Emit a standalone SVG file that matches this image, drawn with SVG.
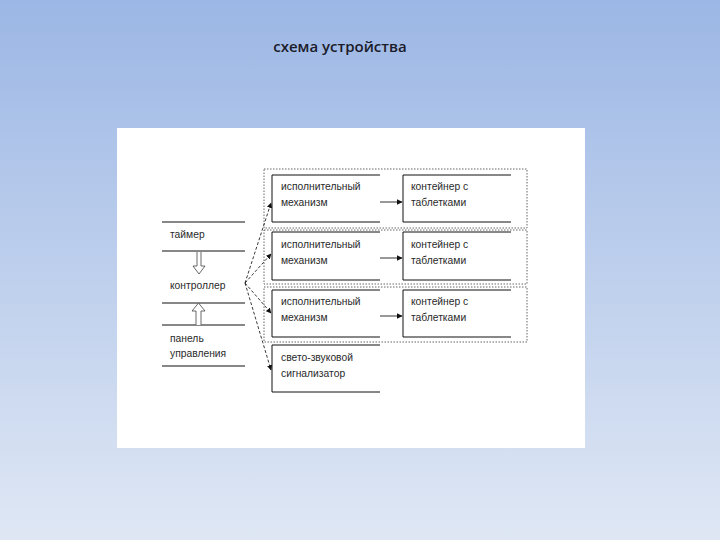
<svg xmlns="http://www.w3.org/2000/svg" width="720" height="540" viewBox="0 0 720 540">
<defs>
<linearGradient id="bg" x1="0" y1="0" x2="0" y2="1">
<stop offset="0" stop-color="#9cb7e5"/>
<stop offset="1" stop-color="#dfe7f4"/>
</linearGradient>
<marker id="ah" viewBox="0 0 10 10" refX="9" refY="5" markerWidth="6" markerHeight="6" orient="auto">
<path d="M0,0 L10,5 L0,10 z" fill="#111"/>
</marker>
<style>
.t{font-family:"Liberation Sans",Arial,sans-serif;font-size:10.3px;fill:#2a2a2a}
.ln{stroke:#111;stroke-width:1;fill:none}
.grp{stroke:#666;stroke-width:1;stroke-dasharray:1.5,1.5;fill:none}
.dash{stroke:#222;stroke-width:0.9;stroke-dasharray:3,2;fill:none}
.h{stroke:#333;stroke-width:1;fill:none}
</style>
</defs>
<rect width="720" height="540" fill="url(#bg)"/>
<text x="340" y="52" text-anchor="middle" font-family="'Open Sans','Liberation Sans',sans-serif" font-size="15" font-weight="600" fill="#1b1b2a">схема устройства</text>
<rect x="117" y="128" width="468" height="320" fill="#fff"/>

<g id="groups">
<rect class="grp" x="264" y="169" width="263" height="59"/>
<rect class="grp" x="264" y="230" width="263" height="54"/>
<rect class="grp" x="264" y="287" width="263" height="55"/>
</g>

<g id="timer">
<line class="ln" x1="162" y1="222" x2="245" y2="222"/>
<line class="ln" x1="162" y1="251" x2="245" y2="251"/>
<text class="t" x="170" y="238">таймер</text>
</g>
<g id="controller">
<text class="t" x="170" y="289">контроллер</text>
</g>
<g id="panel">
<line class="ln" x1="162" y1="303" x2="245" y2="303"/>
<line class="ln" x1="162" y1="325" x2="245" y2="325"/>
<line class="ln" x1="162" y1="366" x2="245" y2="366"/>
<text class="t" x="170" y="342">панель</text>
<text class="t" x="170" y="357">управления</text>
</g>

<g id="act1">
<path class="ln" d="M380,175 H272 V222 H380"/>
<text class="t" x="281" y="190">исполнительный</text>
<text class="t" x="281" y="206">механизм</text>
</g>
<g id="act2">
<path class="ln" d="M380,232 H272 V280 H380"/>
<text class="t" x="281" y="248">исполнительный</text>
<text class="t" x="281" y="264">механизм</text>
</g>
<g id="act3">
<path class="ln" d="M380,290 H272 V337 H380"/>
<text class="t" x="281" y="305">исполнительный</text>
<text class="t" x="281" y="321">механизм</text>
</g>
<g id="signal">
<path class="ln" d="M380,345 H272 V392 H380"/>
<text class="t" x="281" y="361">свето-звуковой</text>
<text class="t" x="281" y="377">сигнализатор</text>
</g>
<g id="cont1">
<path class="ln" d="M511,175 H403 V222 H511"/>
<text class="t" x="411" y="190">контейнер с</text>
<text class="t" x="411" y="206">таблетками</text>
</g>
<g id="cont2">
<path class="ln" d="M511,232 H403 V280 H511"/>
<text class="t" x="411" y="248">контейнер с</text>
<text class="t" x="411" y="264">таблетками</text>
</g>
<g id="cont3">
<path class="ln" d="M511,290 H403 V337 H511"/>
<text class="t" x="411" y="305">контейнер с</text>
<text class="t" x="411" y="321">таблетками</text>
</g>

<g id="connectors">
<path d="M197,252 V266 H193 L199,274 L205,266 H201 V252" fill="#fff" stroke="#444" stroke-width="0.8"/>
<path d="M196,325 V311 H192 L198.5,303 L205,311 H201 V325" fill="#fff" stroke="#444" stroke-width="0.8"/>
<line class="dash" x1="245" y1="283" x2="271" y2="203" marker-end="url(#ah)"/>
<line class="dash" x1="245" y1="283" x2="271" y2="254" marker-end="url(#ah)"/>
<line class="dash" x1="245" y1="283" x2="271" y2="313" marker-end="url(#ah)"/>
<line class="dash" x1="245" y1="283" x2="271" y2="370" marker-end="url(#ah)"/>
<line class="h" x1="380" y1="202" x2="402" y2="202" stroke="#777" marker-end="url(#ah)"/>
<line class="h" x1="380" y1="258" x2="402" y2="258" stroke="#777" marker-end="url(#ah)"/>
<line class="h" x1="380" y1="316" x2="402" y2="316" marker-end="url(#ah)"/>
</g>
</svg>
